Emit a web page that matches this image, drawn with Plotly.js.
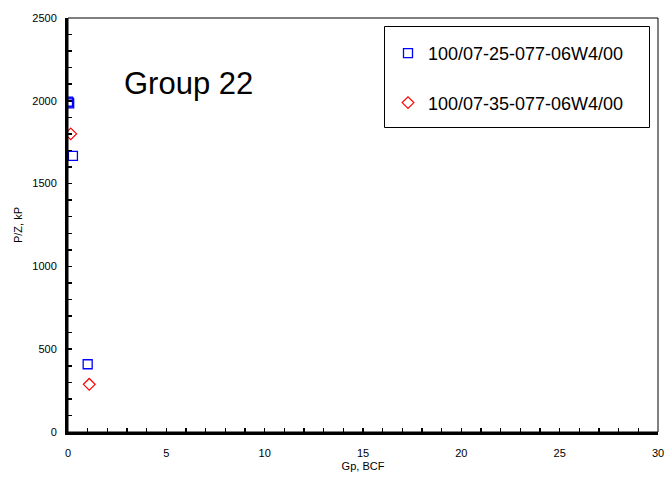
<!DOCTYPE html>
<html>
<head>
<meta charset="utf-8">
<script src="https://cdn.plot.ly/plotly-3.0.1.min.js"></script>
<style>html,body{margin:0;padding:0;background:#fff;}#chart{width:665px;height:481px;}</style>
</head>
<body>
<div id="chart"></div>
<script>
var seriesNames = ["100/07-25-077-06W4/00", "100/07-35-077-06W4/00"];
var gp1 = [0.0, 0.03, 0.06, 0.25, 1.0];
var pz1 = [1995, 1990, 1985, 1667, 409];
var gp2 = [0.14, 1.08];
var pz2 = [1800, 288];
var chartTitle = "Group 22";
var xTitle = "Gp, BCF";
var yTitle = "P/Z, kP";

var font = "Liberation Sans, Arial, sans-serif";

// plot area in pixels: x 68..658, y 18..432
function px(x) { return (x - 68) / 590; }
function py(y) { return (432 - y) / 414; }

var traces = [
  {x: gp1, y: pz1, name: seriesNames[0], type: "scatter", mode: "markers", legendgroup: "a",
   marker: {symbol: "square-open", size: 9, color: "#0000FF", line: {width: 1.3, color: "#0000FF"}}},
  {x: gp2, y: pz2, name: seriesNames[1], type: "scatter", mode: "markers", legendgroup: "b",
   marker: {symbol: "diamond-open", size: 9, color: "#FF0000", line: {width: 1.2, color: "#FF0000"}}}
];

var axisCommon = {
  showgrid: false, zeroline: false, showline: true, linecolor: "#000", linewidth: 3,
  ticks: "inside", ticklen: 4, tickwidth: 1.5, tickcolor: "#000",
  tickfont: {family: font, size: 11, color: "#000"}
};

var layout = {
  width: 665, height: 481,
  margin: {l: 68, r: 7, t: 18, b: 49},
  paper_bgcolor: "#fff", plot_bgcolor: "#fff",
  showlegend: true,
  xaxis: Object.assign({}, axisCommon, {
    range: [0, 30], dtick: 5, tick0: 0, ticklabelstandoff: 9,
    minor: {dtick: 1, ticks: "inside", ticklen: 4, tickcolor: "#000", tickwidth: 1.5},
    title: {text: xTitle, font: {family: font, size: 11, color: "#000"}, standoff: 5}
  }),
  yaxis: Object.assign({}, axisCommon, {
    range: [0, 2500], dtick: 500, tick0: 0, ticklabelstandoff: 6,
    minor: {dtick: 100, ticks: "inside", ticklen: 4, tickcolor: "#000", tickwidth: 1.5},
    title: {text: yTitle, font: {family: font, size: 11, color: "#000"}, standoff: 8}
  }),
  legend: {
    x: px(388), y: py(35), xanchor: "left", yanchor: "top",
    borderwidth: 0, bgcolor: "rgba(0,0,0,0)",
    font: {family: font, size: 18, color: "#000"},
    traceorder: "grouped", tracegroupgap: 23
  },
  shapes: [
    {type: "rect", xref: "paper", yref: "paper", x0: 0, x1: 1, y0: 0, y1: 1,
     line: {color: "#000", width: 1}, fillcolor: "rgba(0,0,0,0)"},
    {type: "rect", xref: "paper", yref: "paper", x0: px(384.5), x1: px(649.5), y0: py(127.5), y1: py(26.5),
     line: {color: "#000", width: 1}, fillcolor: "rgba(0,0,0,0)"}
  ],
  annotations: [
    {text: chartTitle, xref: "paper", yref: "paper", x: px(122), y: py(83),
     xanchor: "left", yanchor: "middle", showarrow: false,
     font: {family: font, size: 31, color: "#000"}}
  ]
};

Plotly.newPlot("chart", traces, layout, {displayModeBar: false, staticPlot: true});
</script>
</body>
</html>
